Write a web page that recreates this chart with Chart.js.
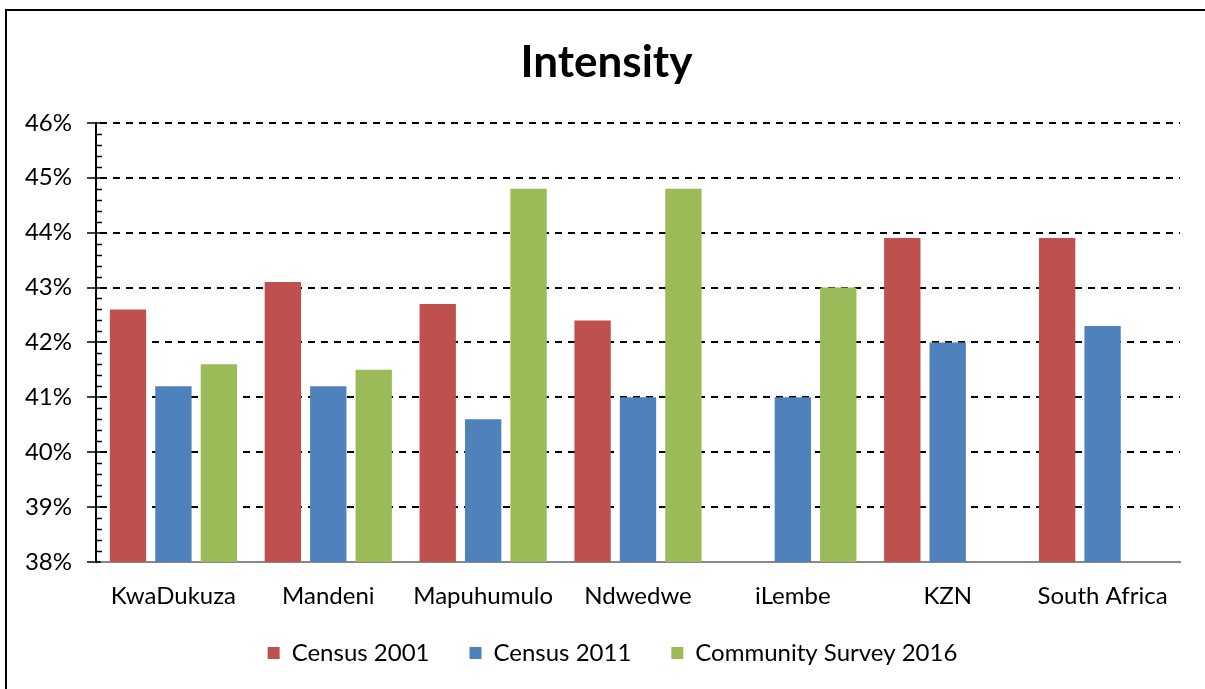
<!DOCTYPE html>
<html>
<head>
<meta charset="utf-8">
<title>Intensity</title>
<script src="https://cdn.jsdelivr.net/npm/chart.js@4/dist/chart.umd.min.js"></script>
<style>
  html, body { margin: 0; padding: 0; background: #fff; }
  #wrap { position: relative; width: 1205px; height: 689px; overflow: hidden; }
  #frame { position: absolute; left: 5px; top: 9px; width: 1300px; height: 800px;
           border-left: 2px solid #000; border-top: 2px solid #000; }
  canvas { position: absolute; left: 0; top: 0; }
</style>
</head>
<body>
<div id="wrap">
  <div id="frame"></div>
  <canvas id="chart" width="1205" height="689"></canvas>
</div>
<script>
const areas = ["KwaDukuza", "Mandeni", "Mapuhumulo", "Ndwedwe", "iLembe", "KZN", "South Africa"];
const census2001 = [42.6, 43.1, 42.7, 42.4, null, 43.9, 43.9];
const census2011 = [41.2, 41.2, 40.6, 41.0, 41.0, 42.0, 42.3];
const survey2016 = [41.6, 41.5, 44.8, 44.8, 43.0, null, null];
const yTicks = [38, 39, 40, 41, 42, 43, 44, 45, 46];

const FONT = "Lato, 'Open Sans', sans-serif";

// dashed gridlines, crossing major ticks and small minor ticks on the value axis
const axisMarks = {
  id: 'axisMarks',
  beforeDatasetsDraw(chart) {
    const { ctx, chartArea, scales } = chart;
    const y = scales.y;
    const x0 = Math.round(y.right);
    ctx.save();
    ctx.strokeStyle = '#000';
    ctx.lineWidth = 2;
    yTicks.forEach(v => {
      const py = Math.round(y.getPixelForValue(v));
      if (v > yTicks[0]) {
        ctx.setLineDash([7, 6]);
        ctx.beginPath();
        ctx.moveTo(x0 + 4, py);
        ctx.lineTo(chartArea.right, py);
        ctx.stroke();
      }
    });
    ctx.setLineDash([]);
    ctx.lineWidth = 1.5;
    yTicks.forEach((v, i) => {
      const py = Math.round(y.getPixelForValue(v));
      ctx.beginPath();
      ctx.moveTo(x0 - 9, py);
      ctx.lineTo(x0 + 5, py);
      ctx.stroke();
      if (i < yTicks.length - 1) {
        for (let k = 1; k < 5; k++) {
          const my = Math.round(y.getPixelForValue(v + k * 0.2)) + 0.5;
          ctx.beginPath();
          ctx.moveTo(x0, my);
          ctx.lineTo(x0 + 6, my);
          ctx.stroke();
        }
      }
    });
    ctx.restore();
  }
};

// nudge the title and legend blocks a little after layout
const nudgeBlocks = {
  id: 'nudgeBlocks',
  afterLayout(chart) {
    const lg = chart.legend;
    if (lg) {
      lg.top -= 13; lg.bottom -= 13;
      lg.left += 10; lg.right += 10;
    }
    const tb = chart.titleBlock;
    if (tb) { tb.left += 4; tb.right += 4; }
  }
};

new Chart(document.getElementById('chart'), {
  type: 'bar',
  data: {
    labels: areas,
    datasets: [
      { label: 'Census 2001', data: census2001, backgroundColor: '#C0504D' },
      { label: 'Census 2011', data: census2011, backgroundColor: '#4F81BD' },
      { label: 'Community Survey 2016', data: survey2016, backgroundColor: '#9BBB59' }
    ]
  },
  options: {
    responsive: false,
    animation: false,
    devicePixelRatio: 1,
    layout: { padding: { left: 25, right: 25, top: 0, bottom: 1 } },
    datasets: { bar: { categoryPercentage: 0.88, barPercentage: 0.8 } },
    scales: {
      x: {
        afterFit(scale) { scale.height = 52; },
        grid: { display: false, drawTicks: false },
        border: { display: true, color: '#888', width: 2 },
        ticks: { color: '#000', font: { family: FONT, size: 24 }, padding: 20, maxRotation: 0 }
      },
      y: {
        min: 38,
        max: 46,
        afterFit(scale) { scale.width = 71; },
        grid: { display: false, drawTicks: false },
        border: { display: true, color: '#000', width: 2 },
        ticks: {
          stepSize: 1,
          color: '#000',
          font: { family: FONT, size: 24 },
          padding: 24,
          callback: v => v + '%'
        }
      }
    },
    plugins: {
      title: {
        display: true,
        text: 'Intensity',
        color: '#000',
        font: { family: FONT, size: 44, weight: 'bold' },
        padding: { top: 36, bottom: 34 }
      },
      legend: {
        position: 'bottom',
        labels: {
          color: '#000',
          font: { family: FONT, size: 24 },
          boxWidth: 12,
          boxHeight: 12,
          padding: 40
        }
      },
      tooltip: { enabled: false }
    }
  },
  plugins: [axisMarks, nudgeBlocks]
});
</script>
</body>
</html>
